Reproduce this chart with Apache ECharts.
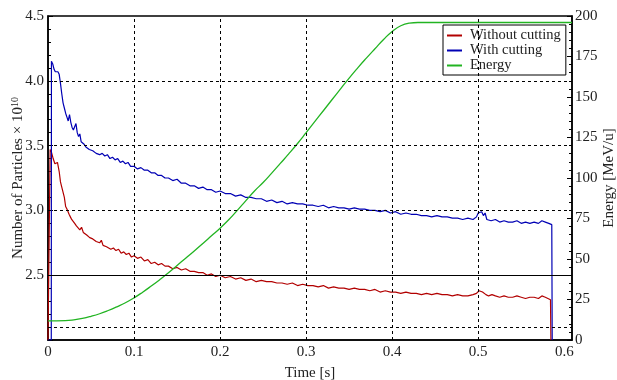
<!DOCTYPE html>
<html>
<head>
<meta charset="utf-8">
<script src="https://cdn.jsdelivr.net/npm/echarts@6/dist/echarts.min.js"></script>
<style>
    html, body { margin: 0; padding: 0; background: #fff; }
    #chart { width: 617px; height: 380px; }
</style>
</head>
<body>
<div id="chart"></div>
<script>
// particles (x 1e10) without cutting: [time s, value]
var withoutCutting = [
    [0, 2.0], [0.002, 2.0], [0.0025, 3.47], [0.004, 3.45], [0.006, 3.40], [0.008, 3.36], [0.0095, 3.35],
    [0.011, 3.37], [0.012, 3.36], [0.013, 3.30], [0.0145, 3.22], [0.016, 3.18], [0.0175, 3.17], [0.019, 3.10],
    [0.0205, 3.03], [0.022, 3.01], [0.023, 3.02], [0.0245, 2.97], [0.026, 2.95], [0.0275, 2.93], [0.029, 2.94],
    [0.031, 2.90], [0.033, 2.88], [0.035, 2.89], [0.037, 2.85], [0.039, 2.87], [0.041, 2.83], [0.043, 2.84],
    [0.045, 2.81], [0.047, 2.82], [0.0485, 2.79], [0.05, 2.80], [0.052, 2.78], [0.054, 2.79], [0.056, 2.76],
    [0.058, 2.77], [0.06, 2.75], [0.062, 2.77], [0.064, 2.73], [0.066, 2.74], [0.068, 2.72], [0.07, 2.73],
    [0.073, 2.70], [0.076, 2.71], [0.079, 2.69], [0.082, 2.70], [0.085, 2.67], [0.088, 2.68], [0.091, 2.66],
    [0.094, 2.67], [0.097, 2.64], [0.1, 2.65], [0.104, 2.63], [0.108, 2.64], [0.112, 2.61], [0.116, 2.62],
    [0.12, 2.59], [0.124, 2.60], [0.128, 2.58], [0.132, 2.59], [0.136, 2.57], [0.14, 2.57], [0.145, 2.55],
    [0.15, 2.56], [0.155, 2.54], [0.16, 2.55], [0.165, 2.53], [0.17, 2.53], [0.175, 2.52], [0.18, 2.52],
    [0.185, 2.50], [0.19, 2.51], [0.195, 2.49], [0.2, 2.50], [0.206, 2.48], [0.212, 2.49], [0.218, 2.47],
    [0.224, 2.48], [0.23, 2.46], [0.236, 2.47], [0.242, 2.45], [0.248, 2.46], [0.254, 2.45], [0.26, 2.45],
    [0.266, 2.44], [0.272, 2.44], [0.278, 2.43], [0.284, 2.44], [0.29, 2.42], [0.296, 2.43], [0.302, 2.42],
    [0.308, 2.42], [0.314, 2.41], [0.32, 2.42], [0.326, 2.40], [0.332, 2.41], [0.338, 2.40], [0.344, 2.40],
    [0.35, 2.39], [0.356, 2.40], [0.362, 2.39], [0.368, 2.39], [0.374, 2.38], [0.38, 2.39], [0.386, 2.37],
    [0.392, 2.38], [0.398, 2.37], [0.404, 2.37], [0.41, 2.36], [0.416, 2.37], [0.422, 2.36], [0.428, 2.36],
    [0.434, 2.35], [0.44, 2.36], [0.446, 2.35], [0.452, 2.36], [0.458, 2.35], [0.464, 2.35], [0.47, 2.34],
    [0.476, 2.35], [0.482, 2.34], [0.488, 2.34], [0.494, 2.35], [0.498, 2.36], [0.501, 2.38], [0.503, 2.39],
    [0.505, 2.37], [0.507, 2.38], [0.509, 2.35], [0.512, 2.34], [0.516, 2.35], [0.52, 2.34], [0.525, 2.33],
    [0.53, 2.34], [0.535, 2.33], [0.54, 2.33], [0.545, 2.34], [0.55, 2.33], [0.555, 2.32], [0.56, 2.33],
    [0.565, 2.33], [0.57, 2.32], [0.574, 2.34], [0.576, 2.35], [0.578, 2.33], [0.581, 2.32], [0.584, 2.31],
    [0.5845, 2.0]
];

// particles (x 1e10) with cutting
var withCutting = [
    [0, 2.0], [0.0038, 2.0], [0.004, 4.15], [0.0055, 4.13], [0.007, 4.09], [0.0085, 4.07], [0.010, 4.08],
    [0.0115, 4.07], [0.013, 4.05], [0.0145, 3.98], [0.016, 3.90], [0.0175, 3.83], [0.019, 3.79], [0.0205, 3.75],
    [0.022, 3.72], [0.0235, 3.69], [0.025, 3.74], [0.0265, 3.68], [0.028, 3.64], [0.0295, 3.62], [0.031, 3.63],
    [0.0325, 3.67], [0.034, 3.60], [0.0355, 3.57], [0.037, 3.59], [0.0385, 3.53], [0.040, 3.52], [0.042, 3.51],
    [0.044, 3.49], [0.046, 3.50], [0.048, 3.47], [0.050, 3.48], [0.052, 3.46], [0.054, 3.47], [0.056, 3.44],
    [0.058, 3.45], [0.06, 3.43], [0.063, 3.44], [0.066, 3.42], [0.069, 3.43], [0.072, 3.40], [0.075, 3.41],
    [0.078, 3.39], [0.081, 3.40], [0.084, 3.37], [0.087, 3.38], [0.09, 3.36], [0.093, 3.37], [0.096, 3.34],
    [0.1, 3.34], [0.104, 3.32], [0.108, 3.33], [0.112, 3.31], [0.116, 3.31], [0.12, 3.29], [0.124, 3.29],
    [0.128, 3.27], [0.132, 3.27], [0.136, 3.25], [0.14, 3.25], [0.145, 3.23], [0.15, 3.24], [0.155, 3.21],
    [0.16, 3.21], [0.165, 3.19], [0.17, 3.19], [0.175, 3.17], [0.18, 3.18], [0.185, 3.16], [0.19, 3.16],
    [0.195, 3.14], [0.2, 3.15], [0.206, 3.13], [0.212, 3.13], [0.218, 3.11], [0.224, 3.12], [0.23, 3.10],
    [0.236, 3.10], [0.242, 3.09], [0.248, 3.09], [0.254, 3.07], [0.26, 3.08], [0.266, 3.06], [0.272, 3.07],
    [0.278, 3.05], [0.284, 3.06], [0.29, 3.05], [0.296, 3.05], [0.302, 3.04], [0.308, 3.04], [0.314, 3.03],
    [0.32, 3.04], [0.326, 3.02], [0.332, 3.03], [0.338, 3.02], [0.344, 3.02], [0.35, 3.01], [0.356, 3.02],
    [0.362, 3.01], [0.368, 3.01], [0.374, 3.00], [0.38, 3.00], [0.386, 2.99], [0.392, 3.00], [0.398, 2.98],
    [0.404, 2.99], [0.41, 2.97], [0.416, 2.98], [0.422, 2.97], [0.428, 2.97], [0.434, 2.96], [0.44, 2.96],
    [0.446, 2.95], [0.452, 2.96], [0.458, 2.95], [0.464, 2.95], [0.47, 2.94], [0.476, 2.94], [0.482, 2.93],
    [0.488, 2.94], [0.494, 2.93], [0.498, 2.95], [0.5, 2.98], [0.502, 2.97], [0.504, 2.99], [0.506, 2.96],
    [0.508, 2.98], [0.51, 2.93], [0.515, 2.92], [0.52, 2.93], [0.525, 2.91], [0.53, 2.92], [0.535, 2.91],
    [0.54, 2.91], [0.545, 2.92], [0.55, 2.90], [0.555, 2.91], [0.56, 2.90], [0.565, 2.91], [0.57, 2.90],
    [0.574, 2.92], [0.576, 2.93], [0.578, 2.91], [0.582, 2.90], [0.5855, 2.89], [0.586, 2.0]
];

// beam energy MeV/u (right axis)
var energy = [
    [0, 11.8], [0.01, 11.8], [0.02, 11.9], [0.03, 12.4], [0.04, 13.3], [0.05, 14.6], [0.06, 16.2],
    [0.07, 18.2], [0.08, 20.5], [0.09, 23.0], [0.1, 26.0], [0.11, 29.5], [0.12, 33.3], [0.13, 37.3],
    [0.14, 41.5], [0.15, 46.0], [0.16, 50.5], [0.17, 55.0], [0.18, 59.6], [0.19, 64.3], [0.2, 69.0],
    [0.21, 74.2], [0.22, 80.0], [0.23, 86.0], [0.24, 92.0], [0.25, 97.2], [0.26, 103.0], [0.27, 109.0],
    [0.28, 115.0], [0.29, 121.3], [0.3, 128.0], [0.31, 134.8], [0.32, 141.5], [0.33, 148.3], [0.34, 155.0],
    [0.35, 161.7], [0.36, 168.0], [0.37, 174.0], [0.38, 179.8], [0.39, 185.5], [0.4, 190.5], [0.41, 194.0],
    [0.42, 195.6], [0.43, 196.0], [0.5, 196.0], [0.609, 196.0]
];

var gridTimes = [0.1, 0.2, 0.3, 0.4, 0.5];
var gridLevels = [2.1, 3.0, 3.5, 4.0];
var refLevel = 2.5;

var font = "'Liberation Serif', 'DejaVu Serif', serif";
var ink = "#222";

var gridMarks = [];
gridTimes.forEach(function(t) {
    gridMarks.push({ xAxis: t });
});
gridLevels.forEach(function(v) {
    gridMarks.push({ yAxis: v });
});
gridMarks.push({ yAxis: refLevel, lineStyle: { type: "solid", width: 1.2 } });

var chart = echarts.init(document.getElementById("chart"));
var option = {
    animation: false,
    grid: {
        left: 48, right: 45, top: 16, bottom: 40,
        outerBoundsMode: "none",
        containLabel: false,
        show: true, borderColor: "#000", borderWidth: 1.5
    },
    legend: {
        orient: "vertical",
        left: 443, top: 25,
        padding: [3, 5, 2, 4],
        itemGap: 0,
        itemWidth: 15, itemHeight: 2,
        icon: "rect",
        backgroundColor: "#fff",
        borderColor: "#000", borderWidth: 1,
        textStyle: { fontFamily: font, fontSize: 14.5, color: ink, padding: [0, 0, 0, 3] },
        data: ["Without cutting", "With cutting", "Energy"]
    },
    xAxis: {
        type: "value",
        min: 0, max: 0.609, interval: 0.1,
        name: "Time [s]",
        nameLocation: "middle", nameGap: 26,
        nameMoveOverlap: false,
        nameTextStyle: { fontFamily: font, fontSize: 15, color: ink },
        axisLine: { lineStyle: { color: "#000", width: 1.5 } },
        axisTick: { show: false },
        splitLine: { show: false },
        axisLabel: {
            fontFamily: font, fontSize: 15, color: ink, margin: 5,
            formatter: function(v) {
                if (Math.abs(v * 10 - Math.round(v * 10)) > 1e-6) return "";
                return v === 0 ? "0" : v.toFixed(1);
            }
        }
    },
    yAxis: [{
        type: "value",
        min: 2.0, max: 4.5, interval: 0.5,
        name: "{a|Number of Particles × 10}{s|10}",
        nameLocation: "middle", nameGap: 22, nameRotate: 90,
        nameMoveOverlap: false,
        nameTextStyle: {
            fontFamily: font, fontSize: 15, color: ink,
            rich: {
                a: { fontFamily: font, fontSize: 15, color: ink },
                s: { fontFamily: font, fontSize: 10, color: ink, verticalAlign: "bottom", padding: [0, 0, 6, 0] }
            }
        },
        axisLine: { show: true, lineStyle: { color: "#000", width: 1.5 } },
        axisTick: { show: true, inside: true, length: 5, lineStyle: { color: "#000" } },
        minorTick: { show: true, splitNumber: 5, length: 3, lineStyle: { color: "#000" } },
        splitLine: { show: false },
        axisLabel: {
            fontFamily: font, fontSize: 15, color: ink, margin: 4,
            showMinLabel: false,
            formatter: function(v) { return v.toFixed(1); }
        }
    }, {
        type: "value",
        min: 0, max: 200, interval: 25,
        name: "Energy [MeV/u]",
        nameLocation: "middle", nameGap: 30, nameRotate: 90,
        nameMoveOverlap: false,
        nameTextStyle: { fontFamily: font, fontSize: 15, color: ink },
        axisLine: { show: true, lineStyle: { color: "#000", width: 1.5 } },
        axisTick: { show: true, inside: true, length: 5, lineStyle: { color: "#000" } },
        minorTick: { show: true, splitNumber: 5, length: 3, lineStyle: { color: "#000" } },
        splitLine: { show: false },
        axisLabel: { fontFamily: font, fontSize: 15, color: ink, margin: 3 }
    }],
    series: [{
        name: "grid",
        type: "line",
        data: [],
        silent: true,
        z: 1,
        markLine: {
            silent: true,
            symbol: "none",
            label: { show: false },
            animation: false,
            lineStyle: { color: "#000", type: [3, 3], width: 1 },
            data: gridMarks
        }
    }, {
        name: "Without cutting",
        type: "line",
        data: withoutCutting,
        showSymbol: false,
        clip: true,
        z: 3,
        color: "#b20000",
        lineStyle: { width: 1.2 }
    }, {
        name: "With cutting",
        type: "line",
        data: withCutting,
        showSymbol: false,
        clip: true,
        z: 3,
        color: "#0000b4",
        lineStyle: { width: 1.2 }
    }, {
        name: "Energy",
        type: "line",
        yAxisIndex: 1,
        data: energy,
        showSymbol: false,
        smooth: true,
        z: 3,
        color: "#22b422",
        lineStyle: { width: 1.3 }
    }]
};
chart.setOption(option);
</script>
</body>
</html>
